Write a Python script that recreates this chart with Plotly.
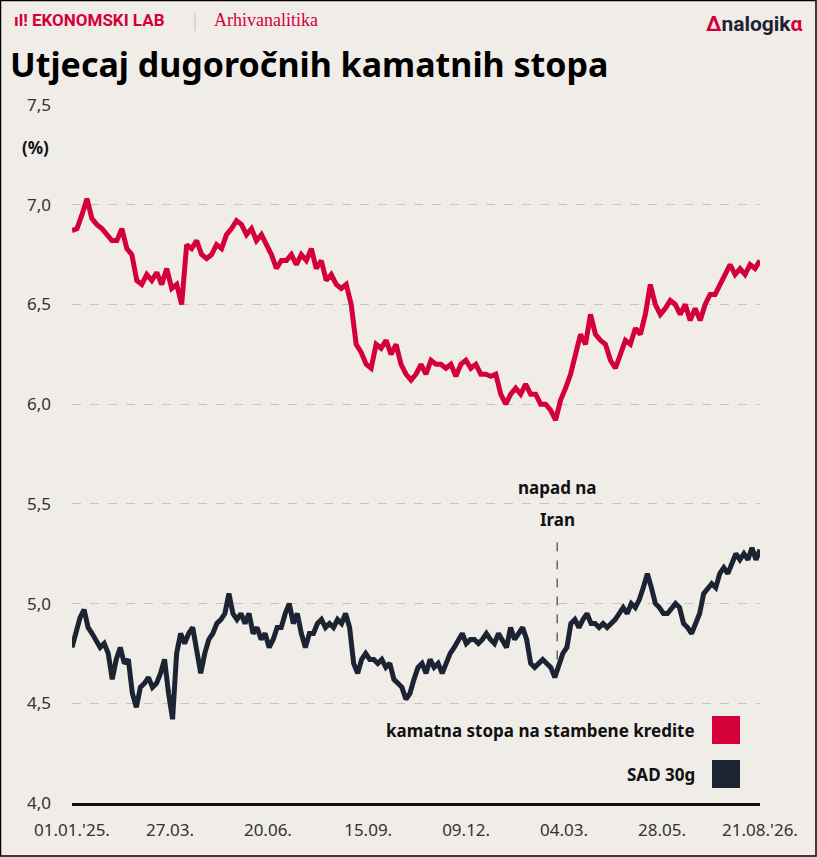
import plotly.graph_objects as go
import pandas as pd

mortgage = [6.87,6.88,6.95,7.03,6.93,6.9,6.88,6.85,6.82,6.82,6.88,6.78,6.75,6.62,6.6,6.65,6.62,6.66,6.6,6.68,6.58,6.6,6.5,6.8,6.78,6.82,6.75,6.73,6.75,6.8,6.78,6.85,6.88,6.92,6.9,6.85,6.88,6.82,6.85,6.8,6.75,6.68,6.72,6.72,6.75,6.7,6.75,6.72,6.78,6.68,6.72,6.62,6.65,6.6,6.58,6.6,6.5,6.3,6.26,6.2,6.18,6.3,6.28,6.32,6.25,6.3,6.2,6.15,6.12,6.15,6.2,6.15,6.22,6.2,6.2,6.18,6.2,6.14,6.2,6.22,6.18,6.2,6.15,6.15,6.14,6.15,6.05,6.0,6.05,6.08,6.05,6.1,6.05,6.05,6.0,6.0,5.97,5.92,6.02,6.08,6.15,6.25,6.35,6.3,6.45,6.35,6.32,6.3,6.22,6.18,6.25,6.32,6.3,6.38,6.35,6.45,6.6,6.5,6.45,6.48,6.52,6.5,6.45,6.5,6.42,6.48,6.42,6.5,6.55,6.55,6.6,6.65,6.7,6.65,6.68,6.65,6.7,6.68,6.72]
us30 = [4.78,4.85,4.93,4.97,4.88,4.85,4.82,4.78,4.8,4.75,4.62,4.72,4.78,4.7,4.72,4.55,4.48,4.58,4.6,4.63,4.58,4.6,4.65,4.72,4.55,4.42,4.75,4.85,4.8,4.85,4.88,4.75,4.65,4.75,4.82,4.85,4.9,4.92,4.95,5.05,4.95,4.92,4.95,4.9,4.95,4.85,4.88,4.82,4.85,4.78,4.82,4.88,4.88,4.95,5.0,4.9,4.95,4.85,4.78,4.85,4.85,4.9,4.92,4.88,4.9,4.88,4.92,4.9,4.95,4.88,4.7,4.65,4.72,4.75,4.72,4.72,4.7,4.72,4.68,4.7,4.62,4.6,4.58,4.52,4.55,4.62,4.68,4.7,4.65,4.72,4.68,4.7,4.65,4.7,4.75,4.78,4.82,4.85,4.8,4.82,4.82,4.8,4.82,4.85,4.82,4.8,4.85,4.82,4.78,4.88,4.82,4.85,4.88,4.82,4.7,4.68,4.7,4.72,4.7,4.68,4.63,4.7,4.75,4.78,4.9,4.92,4.88,4.92,4.95,4.9,4.9,4.88,4.9,4.88,4.9,4.92,4.95,4.98,4.95,5.0,4.98,5.02,5.08,5.15,5.08,5.0,4.98,4.95,4.95,4.98,5.0,4.98,4.9,4.88,4.85,4.9,4.95,5.05,5.08,5.1,5.08,5.15,5.18,5.15,5.2,5.25,5.22,5.25,5.22,5.28,5.22,5.27]
tick_dates = ["2025-01-01","2025-03-27","2025-06-20","2025-09-15","2025-12-09","2026-03-04","2026-05-28","2026-08-21"]
tick_text = ["01.01.'25.","27.03.","20.06.","15.09.","09.12.","04.03.","28.05.","21.08.'26."]
event_date = "2026-02-26"

start, end = "2025-01-01", "2026-08-21"
d1 = pd.date_range(start, end, periods=len(mortgage))
d2 = pd.date_range(start, end, periods=len(us30))
RED, NAVY = "#d4003a", "#1c2333"
BG = "#f0ede8"

fig = go.Figure()
fig.add_trace(go.Scatter(x=d2, y=us30, mode="lines", line=dict(color=NAVY, width=5), showlegend=False))
fig.add_trace(go.Scatter(x=d1, y=mortgage, mode="lines", line=dict(color=RED, width=5), showlegend=False))

fig.update_layout(
    width=817, height=857, paper_bgcolor=BG, plot_bgcolor=BG,
    margin=dict(l=72, r=57, t=105, b=54),
    separators=",.",
    font=dict(family="Noto Sans", color="#222"),
    xaxis=dict(range=[start, end], tickvals=tick_dates, ticktext=tick_text, showgrid=False,
               showline=True, linecolor="#111", linewidth=3, ticks="", ticklabelstandoff=10,
               tickfont=dict(size=17, color="#333")),
    yaxis=dict(range=[4.0, 7.5], dtick=0.5, tickformat=".1f", showgrid=True, gridcolor="#c8c5c0",
               griddash="dash", gridwidth=1, zeroline=False, ticks="", ticklabelstandoff=20,
               tickfont=dict(size=17, color="#333")),
)
fig.add_shape(type="line", x0=event_date, x1=event_date, y0=4.72, y1=5.32, yref="y",
              line=dict(color="#222", width=1, dash="dash"))
fig.add_annotation(x=event_date, y=5.58, yref="y", text="<b>napad na</b>", showarrow=False,
                   font=dict(size=17, color="#111"), yanchor="middle")
fig.add_annotation(x=event_date, y=5.42, yref="y", text="<b>Iran</b>", showarrow=False,
                   font=dict(size=17, color="#111"), yanchor="middle")

def P(px, py):
    return (px-72)/688, 1-(py-105)/698

def note(px, py, text, size, color, family="Noto Sans", anchor="left"):
    x, y = P(px, py)
    fig.add_annotation(xref="paper", yref="paper", x=x, y=y, text=text, showarrow=False,
                       xanchor=anchor, yanchor="middle", font=dict(size=size, color=color, family=family))

note(20, 147, "<b>(%)</b>", 17, "#111")
for txt, col, yp in [("kamatna stopa na stambene kredite", RED, 730), ("SAD 30g", NAVY, 774)]:
    note(697, yp, f"<b>{txt}</b>", 17, "#111", anchor="right")
    x0, y0 = P(712, yp+14); x1, y1 = P(740, yp-14)
    fig.add_shape(type="rect", xref="paper", yref="paper", x0=x0, x1=x1, y0=y0, y1=y1,
                  fillcolor=col, line=dict(width=0))
note(12, 20, "<b>ıl! EKONOMSKI LAB</b>", 17, RED, "Roboto")
note(195, 20, "|", 18, "#ccc", anchor="center")
note(212, 20, "Arhivanalitika", 18, RED, "Liberation Serif")
note(805, 24, f"<b><span style='color:{RED}'>Δ</span>nalogik<span style='color:{RED}'>α</span></b>",
     21, NAVY, "Roboto", anchor="right")
note(8, 64, "<b>Utjecaj dugoročnih kamatnih stopa</b>", 34, "#000")
x0, y0 = P(0.5, 0.5); x1, y1 = P(816, 856)
fig.add_shape(type="rect", xref="paper", yref="paper", x0=x0, y0=y0, x1=x1, y1=y1,
              line=dict(color="#000", width=1.5), fillcolor="rgba(0,0,0,0)")
fig.write_html("out.html", config={"displayModeBar": False},
               post_script="document.body.style.margin='0';document.body.style.padding='0';")
